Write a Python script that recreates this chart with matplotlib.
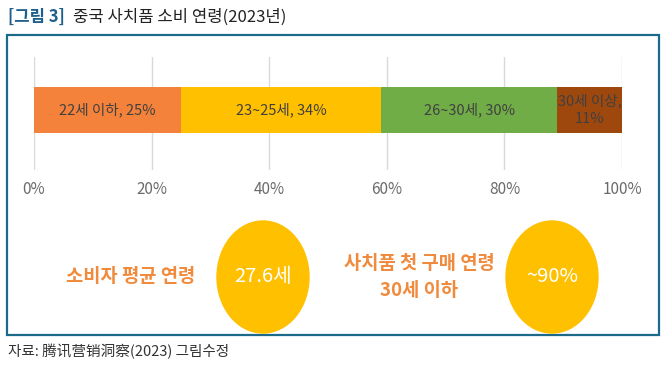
import matplotlib.pyplot as plt
from matplotlib.patches import Ellipse, Rectangle

plt.rcParams['font.family'] = ['Noto Sans CJK KR', 'DejaVu Sans']

# data
age_groups = ['22세 이하', '23~25세', '26~30세', '30세 이상']
shares = [25, 34, 30, 11]
bar_colors = ['#F5823B', '#FFC000', '#70AD47', '#9E480E']
bar_labels = ['22세 이하, 25%', '23~25세, 34%', '26~30세, 30%', '30세 이상,\n11%']
xticks = [0, 20, 40, 60, 80, 100]

facts = ['소비자 평균 연령', '사치품 첫 구매 연령\n30세 이하']
fact_values = ['27.6세', '~90%']

W, H = 663, 368
fig = plt.figure(figsize=(W / 100, H / 100), dpi=100)

# bar chart axes (pixel layout -> figure fraction)
ax = fig.add_axes([34 / W, 1 - 170 / H, 588 / W, 113 / H])
left = 0
for v, c, lab in zip(shares, bar_colors, bar_labels):
    ax.barh(0, v, left=left, height=0.92, color=c, zorder=2)
    ax.text(left + v / 2, 0, lab, ha='center', va='center', fontsize=10.5,
            color='#404040', zorder=3, linespacing=1.3)
    left += v
ax.set_xlim(0, 100)
ax.set_ylim(-1.2, 1.06)
ax.set_xticks(xticks)
ax.set_xticklabels([f'{t}%' for t in xticks], fontsize=11, color='#6b6b6b')
ax.set_yticks([])
ax.tick_params(axis='x', length=0, pad=8)
ax.grid(True, axis='x', color='#d9d9d9', lw=1, zorder=0)
for s in ax.spines.values():
    s.set_visible(False)

# overlay in pixel coordinates for frame, circles, texts
ov = fig.add_axes([0, 0, 1, 1], zorder=-1)
ov.set_xlim(0, W)
ov.set_ylim(H, 0)
ov.axis('off')
ov.patch.set_alpha(0)

ov.add_patch(Rectangle((7, 35), 652, 300, fill=False, edgecolor='#1B6A8A', lw=1.6))

ov2 = fig.add_axes([0, 0, 1, 1], zorder=5)
ov2.set_xlim(0, W)
ov2.set_ylim(H, 0)
ov2.axis('off')
ov2.patch.set_alpha(0)

ov2.text(8, 17, '[그림 3]', fontsize=12, color='#1F5F8B', weight='bold', va='center')
ov2.text(73, 17, '중국 사치품 소비 연령(2023년)', fontsize=12, color='#222222', va='center')
ov2.text(8, 352, '자료: 腾讯营销洞察(2023) 그림수정', fontsize=10.5, color='#333333', va='center',
         family=['Noto Sans CJK SC', 'Noto Sans CJK KR'])

orange = '#F08A3C'
centers = [(263, 277), (552, 277)]
text_x = [131, 419]
for (cx, cy), tx, fact, val in zip(centers, text_x, facts, fact_values):
    ov2.add_patch(Ellipse((cx, cy), 92, 112, color='#FFC000', zorder=1))
    ov2.text(cx, cy, val, ha='center', va='center', fontsize=14.5, color='white',
             weight='medium', zorder=2)
    ov2.text(tx, cy, fact, ha='center', va='center', fontsize=13.5, color=orange,
             weight='bold', linespacing=1.5)

fig.savefig('out.png', dpi=100)
